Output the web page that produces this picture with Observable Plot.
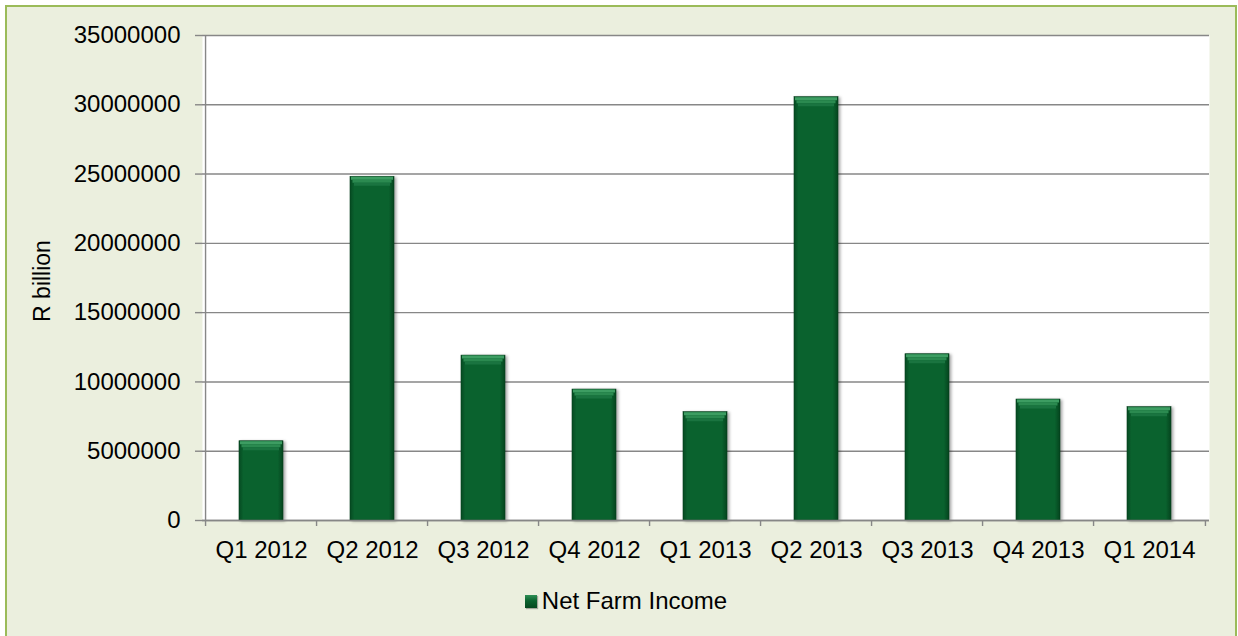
<!DOCTYPE html>
<html><head><meta charset="utf-8">
<script src="https://cdn.jsdelivr.net/npm/d3@7"></script>
<script src="https://cdn.jsdelivr.net/npm/@observablehq/plot@0.6"></script>
<style>
html,body{margin:0;padding:0;background:#fff;}
#box{position:absolute;left:5px;top:5px;width:1228px;height:640px;border:2px solid #9bbb59;background:#ebefde;font-family:"Liberation Sans",Arial,sans-serif;}
#chart{position:absolute;left:0;top:0;}
#legend{position:absolute;left:10px;right:0;top:581px;height:26px;line-height:26px;display:flex;justify-content:center;align-items:center;font-size:24px;color:#000;}
.sw{width:12px;height:13px;background:linear-gradient(#2f8f55,#0a622e 45%,#06481f);margin-right:5px;box-shadow:1px 1px 1px rgba(0,0,0,0.3);}
g[aria-label="bar"]{filter:drop-shadow(2px 1px 1.5px rgba(0,0,0,0.35));}
</style></head><body>
<div id="box"><div id="chart"></div><div id="legend"></div></div>
<script>
const quarters = ["Q1 2012","Q2 2012","Q3 2012","Q4 2012","Q1 2013","Q2 2013","Q3 2013","Q4 2013","Q1 2014"];
const netFarmIncome = [5720000, 24800000, 11900000, 9450000, 7820000, 30550000, 12000000, 8730000, 8180000];
const yTicks = [0, 5000000, 10000000, 15000000, 20000000, 25000000, 30000000, 35000000];
const seriesName = "Net Farm Income";
const yLabel = "R billion";

const data = quarters.map((q, i) => ({q, v: netFarmIncome[i]}));

const W = 1228, H = 560, ml = 195, mr = 26, mt = 28, mb = 47;
const frameW = W - ml - mr, frameH = H - mt - mb;
const step = frameW / quarters.length;
const axisColor = "#878787";

const plot = Plot.plot({
  width: W, height: H,
  marginLeft: ml, marginRight: mr, marginTop: mt, marginBottom: mb,
  style: {background: "transparent", fontFamily: "'Liberation Sans', Arial, sans-serif", fontSize: "24px", color: "#000", overflow: "visible"},
  x: {domain: quarters, paddingInner: 0.6, paddingOuter: 0.3, axis: null, label: null},
  y: {domain: [0, 35000000], axis: null, label: null},
  marks: [
    Plot.frame({fill: "white", stroke: "none"}),
    Plot.gridY(yTicks, {stroke: axisColor, strokeOpacity: 1, strokeWidth: 1.4}),
    Plot.barY(data, {x: "q", y: "v", fill: "url(#barGrad)", stroke: "#05401c", strokeWidth: 0.6}),
    Plot.tickY(data, {x: "q", y: "v", stroke: "#3d9d62", strokeWidth: 3, dy: 1.5, insetLeft: 1, insetRight: 1}),
    Plot.tickY(data, {x: "q", y: "v", stroke: "#2b8a50", strokeWidth: 3, dy: 4.5, insetLeft: 2.5, insetRight: 2.5}),
    Plot.tickY(data, {x: "q", y: "v", stroke: "#1a7440", strokeWidth: 3, dy: 7.5, insetLeft: 4, insetRight: 4}),
    // y axis line and x axis baseline
    Plot.ruleX([quarters[0]], {x: d => d, dx: -step / 2, stroke: axisColor, strokeWidth: 1.4, insetBottom: -6}),
    Plot.ruleY([0], {stroke: axisColor, strokeWidth: 1.4}),
    // category boundary ticks
    Plot.ruleX(quarters.slice(1), {x: d => d, dx: -step / 2, stroke: axisColor, strokeWidth: 1.4, insetTop: frameH, insetBottom: -6}),
    Plot.ruleX([quarters[quarters.length - 1]], {x: d => d, dx: step / 2, stroke: axisColor, strokeWidth: 1.4, insetTop: frameH, insetBottom: -6}),
    Plot.axisY({ticks: yTicks, label: null, tickSize: 7, tickPadding: 15, stroke: axisColor, strokeWidth: 1.4, tickFormat: d => String(d), fontSize: 24, fill: "#000"}),
    Plot.axisX({label: null, tickSize: 0, tickPadding: 20, fontSize: 24, fill: "#000"}),
    Plot.text([yLabel], {text: d => d, frameAnchor: "left", textAnchor: "middle", dx: -160, dy: 3, rotate: -90, fontSize: 23, fill: "#000"})
  ]
});

// gradient definition for the bars
const defs = d3.select(plot).insert("defs", ":first-child");
const g = defs.append("linearGradient").attr("id", "barGrad").attr("x1", 0).attr("x2", 1).attr("y1", 0).attr("y2", 0);
[["0%", "#064a22"], ["10%", "#0a622e"], ["88%", "#0a622e"], ["100%", "#05441e"]].forEach(([o, c]) => g.append("stop").attr("offset", o).attr("stop-color", c));

document.getElementById("chart").appendChild(plot);
const lg = document.getElementById("legend");
lg.innerHTML = `<div class="sw"></div><span>${seriesName}</span>`;
</script>
</body></html>
